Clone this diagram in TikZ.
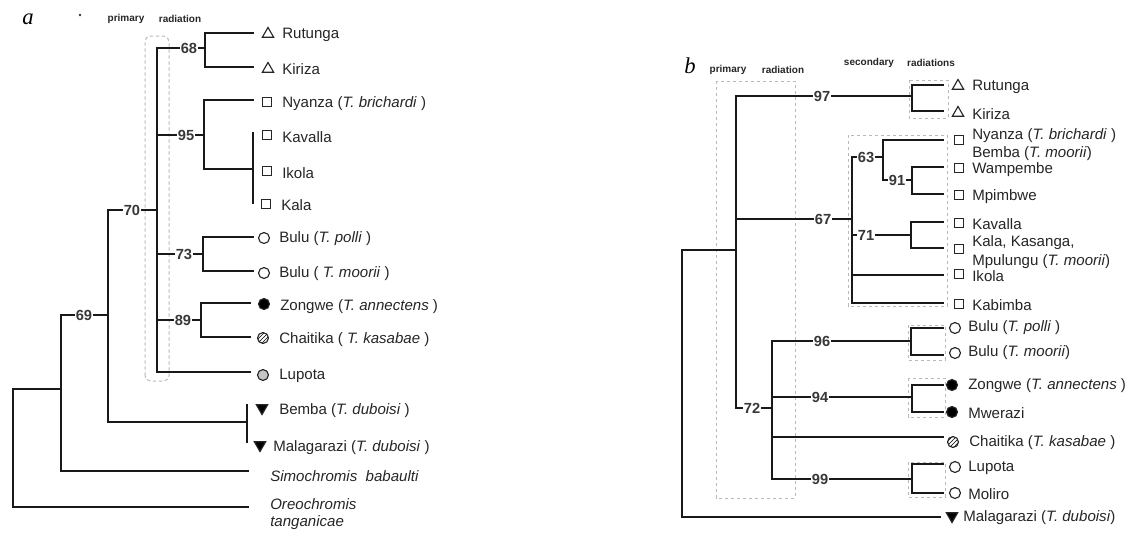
\documentclass[tikz,border=0pt]{standalone}
\usepackage{fontspec}
\setmainfont{Liberation Sans}
\newfontfamily\panelfont{Liberation Serif}
\usetikzlibrary{shapes.geometric,patterns}
\begin{document}
\begin{tikzpicture}[x=0.75pt,y=-0.75pt,
  br/.style={line width=1.8pt,black!90,line cap=rect},
  dbox/.style={gray!55,line width=0.75pt,dash pattern=on 2.5pt off 2pt},
  bs/.style={fill=white,inner sep=0.8pt,font=\bfseries\fontsize{11}{13}\selectfont,text=black!78},
  lab/.style={anchor=west,inner sep=0pt,font=\fontsize{11.3}{13}\selectfont,text=black!85,align=left},
  hdr/.style={font=\bfseries\fontsize{7.5}{9}\selectfont,inner sep=0pt,text=black!85},
  panel/.style={font=\panelfont\itshape\fontsize{17}{19}\selectfont,inner sep=0pt},
  sym/.style={draw=black!85,line width=0.85pt,inner sep=0pt},
  utri/.style={sym,regular polygon,regular polygon sides=3,minimum size=9.8pt},
  dtri/.style={utri,shape border rotate=180,fill=black},
  sqr/.style={sym,rectangle,minimum size=7.2pt},
  circ/.style={sym,circle,minimum size=8.2pt},
  fcirc/.style={circ,fill=black},
  hcirc/.style={circ,pattern=north east lines},
  gcirc/.style={circ,fill=gray!45},
]
\fill[white] (0,0) rectangle (1135,533);
\useasboundingbox (0,0) rectangle (1135,533);

% ================= panel a =================
\node[panel] (pa) at (28,19) {a};
\fill[black!80] (80,15) circle (1.3);
\node[hdr] (ha1) at (126,19) {primary};
\node[hdr] (ha2) at (180,19) {radiation};
\draw[dbox,rounded corners=4] (145,381) rectangle (169,36);

% tree a
\coordinate (aroot) at (13,389);
\coordinate (a69) at (61,315);
\coordinate (a70) at (108,210);
\coordinate (aprim) at (157,48);
\draw[br] (61,389) -| (13,507) -- (248,507);
\draw[br] (108,315) -| (61,471) -- (248,471);
\draw[br] (157,210) -| (108,422) -- (247,422);
\draw[br] (247,405) -- (247,442);
\draw[br] (157,48) -- (157,372) -- (250,372);
\draw[br] (157,48) -- (205,48);
\draw[br] (253,33) -| (205,67) -- (253,67);
\draw[br] (157,135) -- (204,135);
\draw[br] (253,100) -| (204,169) -- (253,169);
\draw[br] (253,133) -- (253,203);
\draw[br] (157,254) -- (203,254);
\draw[br] (253,237) -| (203,271) -- (253,271);
\draw[br] (157,320) -- (201,320);
\draw[br] (250,303) -| (201,337) -- (250,337);

\node[bs] (n68) at (189,48) {68};
\node[bs] (n95) at (186,135) {95};
\node[bs] (n70) at (132,210) {70};
\node[bs] (n73) at (184,254) {73};
\node[bs] (n89) at (183,320) {89};
\node[bs] (n69) at (84,315) {69};

% symbols a
\node[utri] (sa1) at (268,34) {};
\node[utri] (sa2) at (268,69) {};
\node[sqr] (sa3) at (267,102) {};
\node[sqr] (sa4) at (267,135) {};
\node[sqr] (sa5) at (267,171) {};
\node[sqr] (sa6) at (266,204) {};
\node[circ] (sa7) at (264,238) {};
\node[circ] (sa8) at (264,273) {};
\node[fcirc] (sa9) at (264,304) {};
\node[hcirc] (sa10) at (263,338) {};
\node[gcirc] (sa11) at (263,375) {};
\node[dtri] (sa12) at (262,408) {};
\node[dtri] (sa13) at (260,445) {};

% labels a
\node[lab] (la1) at (282,35) {Rutunga};
\node[lab] (la2) at (282,69) {Kiriza};
\node[lab] (la3) at (282,104) {Nyanza (\textit{T. brichardi} )};
\node[lab] (la4) at (282,137) {Kavalla};
\node[lab] (la5) at (282,173) {Ikola};
\node[lab] (la6) at (281,205) {Kala};
\node[lab] (la7) at (279,239) {Bulu (\textit{T. polli} )};
\node[lab] (la8) at (279,274) {Bulu ( \textit{T. moorii} )};
\node[lab] (la9) at (280,307) {Zongwe (\textit{T. annectens} )};
\node[lab] (la10) at (279,340) {Chaitika ( \textit{T. kasabae} )};
\node[lab] (la11) at (279,376) {Lupota};
\node[lab] (la12) at (279,411) {Bemba (\textit{T. duboisi} )};
\node[lab] (la13) at (273,448) {Malagarazi (\textit{T. duboisi} )};
\node[lab] (la14) at (270,476) {\textit{Simochromis\ \ babaulti}};
\node[lab,font=\itshape\fontsize{11.3}{12.8}\selectfont] (la15) at (270,514) {Oreochromis\\tanganicae};

% ================= panel b =================
\node[panel] (pb) at (690,66) {b};
\node[hdr] (hb1) at (728,70) {primary};
\node[hdr] (hb2) at (783,70) {radiation};
\node[hdr] (hb3) at (869,63) {secondary};
\node[hdr] (hb4) at (931,63) {radiations};

\draw[dbox] (716,81) rectangle (795,498);
\draw[dbox] (848,135) rectangle (947,306);
\draw[dbox] (909,80) rectangle (948,118);
\draw[dbox] (908,325) rectangle (945,360);
\draw[dbox] (908,378) rectangle (945,417);
\draw[dbox] (908,462) rectangle (945,497);

% tree b
\coordinate (broot) at (682,250);
\coordinate (bprim) at (736,250);
\coordinate (bsec) at (852,219);
\coordinate (b72) at (772,408);
\draw[br] (736,250) -| (682,517) -- (940,517);
\draw[br] (912,96) -| (736,408) -- (772,408);
\draw[br] (736,219) -- (852,219);
\draw[br] (883,157) -| (852,303) -- (943,303);
\draw[br] (943,140) -| (883,180) -- (912,180);
\draw[br] (943,167) -| (912,194) -- (943,194);
\draw[br] (852,235) -- (911,235);
\draw[br] (943,222) -| (911,248) -- (943,248);
\draw[br] (852,275) -- (943,275);
\draw[br] (943,85) -| (912,111) -- (943,111);
\draw[br] (911,341) -| (772,479) -- (911,479);
\draw[br] (943,328) -| (911,355) -- (943,355);
\draw[br] (772,397) -- (911,397);
\draw[br] (943,385) -| (912,412) -- (943,412);
\draw[br] (772,437) -- (943,437);
\draw[br] (943,464) -| (912,493) -- (943,493);

\node[bs] (n97) at (822,96) {97};
\node[bs] (n67) at (823,219) {67};
\node[bs] (n63) at (866,157) {63};
\node[bs] (n91) at (897,180) {91};
\node[bs] (n71) at (866,235) {71};
\node[bs] (n72) at (752,408) {72};
\node[bs] (n96) at (822,341) {96};
\node[bs] (n94) at (820,397) {94};
\node[bs] (n99) at (820,479) {99};

% symbols b
\node[utri] (sb1) at (958,86) {};
\node[utri] (sb2) at (958,113) {};
\node[sqr] (sb3) at (959,140) {};
\node[sqr] (sb4) at (959,168) {};
\node[sqr] (sb5) at (959,195) {};
\node[sqr] (sb6) at (959,223) {};
\node[sqr] (sb7) at (959,249) {};
\node[sqr] (sb8) at (959,274) {};
\node[sqr] (sb9) at (959,304) {};
\node[circ] (sb10) at (955,328) {};
\node[circ] (sb11) at (955,353) {};
\node[fcirc] (sb12) at (952,385) {};
\node[fcirc] (sb13) at (952,412) {};
\node[hcirc] (sb14) at (953,442) {};
\node[circ] (sb15) at (955,467) {};
\node[circ] (sb16) at (955,493) {};
\node[dtri] (sb17) at (952,516) {};

% labels b
\node[lab] (lb1) at (972,87) {Rutunga};
\node[lab] (lb2) at (972,114) {Kiriza};
\node[lab,font=\fontsize{11.3}{13.5}\selectfont] (lb3) at (972,145) {Nyanza (\textit{T. brichardi} )\\Bemba (\textit{T. moorii})};
\node[lab] (lb4) at (972,170) {Wampembe};
\node[lab] (lb5) at (972,197) {Mpimbwe};
\node[lab] (lb6) at (972,224) {Kavalla};
\node[lab,font=\fontsize{11.3}{14.5}\selectfont] (lb7) at (972,252) {Kala, Kasanga,\\Mpulungu (\textit{T. moorii})};
\node[lab] (lb8) at (972,276) {Ikola};
\node[lab] (lb9) at (972,305) {Kabimba};
\node[lab] (lb10) at (968,328) {Bulu (\textit{T. polli} )};
\node[lab] (lb11) at (968,353) {Bulu (\textit{T. moorii})};
\node[lab] (lb12) at (968,386) {Zongwe (\textit{T. annectens} )};
\node[lab] (lb13) at (968,413) {Mwerazi};
\node[lab] (lb14) at (969,443) {Chaitika (\textit{T. kasabae} )};
\node[lab] (lb15) at (968,468) {Lupota};
\node[lab] (lb16) at (968,494) {Moliro};
\node[lab] (lb17) at (963,518) {Malagarazi (\textit{T. duboisi})};
\end{tikzpicture}
\end{document}
